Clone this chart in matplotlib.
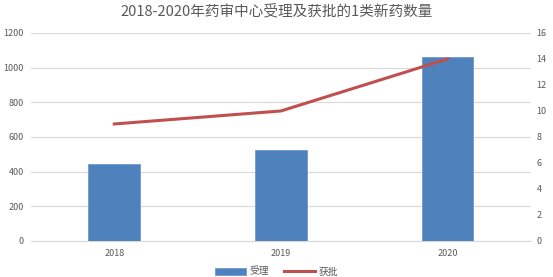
import numpy as np
import matplotlib.pyplot as plt

plt.rcParams['font.family'] = ['Noto Sans CJK SC', 'DejaVu Sans']

years = ['2018', '2019', '2020']
shouli = [445, 525, 1060]     # 受理
huopi = [9, 10, 14]           # 获批

fig = plt.figure(figsize=(5.53, 2.77), dpi=100)
ax = fig.add_axes([0.056, 0.130, 0.904, 0.751])
ax2 = ax.twinx()

x = np.arange(len(years))
b = ax.bar(x, shouli, width=0.31, color='#4f81bd', edgecolor='#6f9bd0', linewidth=0.6, label='受理', zorder=3)
l, = ax2.plot(x, huopi, color='#c0504d', linewidth=2.2, label='获批', zorder=4)

ax.set_xlim(-0.5, 2.5)
ax.set_ylim(0, 1200)
ax.set_yticks(range(0, 1201, 200))
ax2.set_ylim(0, 16)
ax2.set_yticks(range(0, 17, 2))
ax.set_xticks(x)
ax.set_xticklabels(years)

ax.grid(axis='y', color='#d9d9d9', linewidth=0.8, zorder=0)
ax.set_axisbelow(True)
for a in (ax, ax2):
    for s in a.spines.values():
        s.set_visible(False)
    a.tick_params(length=0, labelsize=6.5, colors='#595959')
ax.spines['bottom'].set_visible(True)
ax.spines['bottom'].set_color('#d9d9d9')
ax.tick_params(axis='y', pad=5)
ax2.tick_params(axis='y', pad=4)
ax.tick_params(axis='x', pad=6)

fig.suptitle('2018-2020年药审中心受理及获批的1类新药数量', y=0.985, fontsize=10.5, color='#595959')
fig.legend([b, l], ['受理', '获批'], loc='lower center', bbox_to_anchor=(0.5, -0.03), ncol=2,
           frameon=False, fontsize=7, labelcolor='#595959', handlelength=3.2, columnspacing=1.5,
           handletextpad=0.4)

fig.savefig('out.png', dpi=100)
